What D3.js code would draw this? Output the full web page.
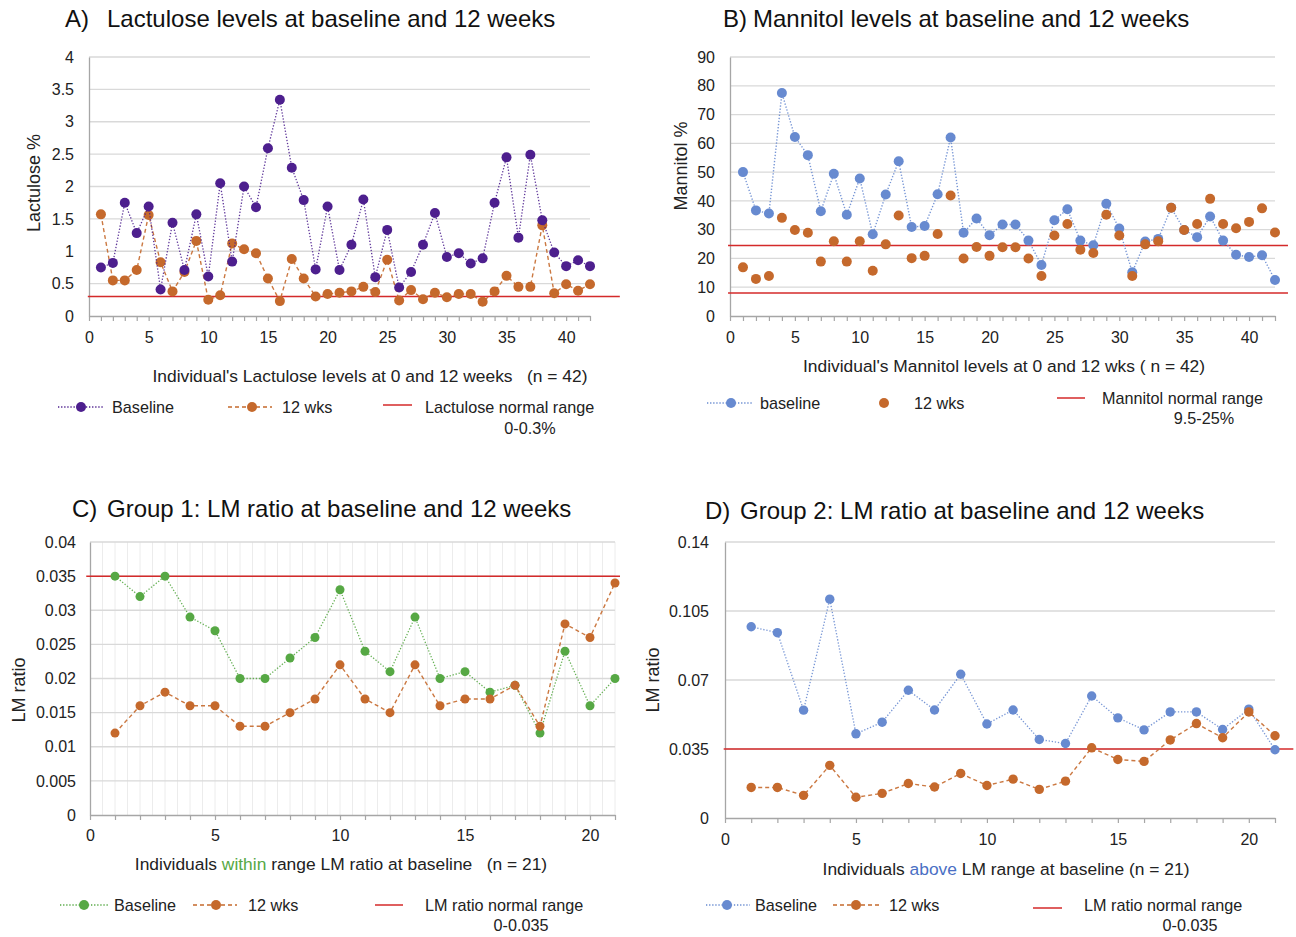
<!DOCTYPE html>
<html><head><meta charset="utf-8">
<script src="https://cdn.jsdelivr.net/npm/d3@7"></script>
<style>body{margin:0;background:#fff} svg{font-family:"Liberation Sans",Arial,sans-serif}</style>
</head><body><svg id="c" width="1296" height="937"></svg>
<script>
// ---------- DATA ----------
const ind42 = [1,2,3,4,5,6,7,8,9,10,11,12,13,14,15,16,17,18,19,20,21,22,23,24,25,26,27,28,29,30,31,32,33,34,35,36,37,38,39,40,41,42];
const ind21 = [1,2,3,4,5,6,7,8,9,10,11,12,13,14,15,16,17,18,19,20,21];

const lactBaseline = [0.75,0.82,1.75,1.28,1.69,0.41,1.44,0.71,1.57,0.61,2.05,0.84,2.0,1.68,2.59,3.34,2.29,1.79,0.72,1.69,0.71,1.10,1.80,0.60,1.33,0.44,0.68,1.10,1.59,0.91,0.97,0.81,0.89,1.75,2.45,1.21,2.49,1.48,0.98,0.77,0.86,0.77];
const lact12wks    = [1.57,0.55,0.55,0.71,1.56,0.83,0.38,0.68,1.16,0.25,0.32,1.12,1.03,0.97,0.58,0.23,0.88,0.58,0.30,0.34,0.36,0.38,0.45,0.37,0.87,0.24,0.40,0.26,0.36,0.29,0.34,0.34,0.22,0.38,0.62,0.45,0.45,1.40,0.35,0.49,0.39,0.49];

const mannBaseline = [50.0,36.7,35.6,77.5,62.2,55.9,36.4,49.4,35.2,47.8,28.4,42.2,53.8,30.9,31.3,42.3,62.0,28.9,33.9,28.1,31.8,31.8,26.2,17.7,33.3,37.1,26.2,24.6,39.0,30.4,15.2,25.9,26.8,37.6,29.9,27.4,34.6,26.2,21.3,20.5,21.1,12.5];
const mann12wks    = [16.9,12.9,13.9,34.1,29.9,28.9,18.9,26.0,18.9,26.0,15.7,24.9,34.9,20.1,20.9,28.5,41.9,20.0,24.0,20.9,23.9,23.9,20.0,13.9,28.0,32.0,23.0,21.9,35.2,28.0,13.9,24.9,26.0,37.6,29.9,32.0,40.7,32.0,30.5,32.7,37.4,29.0];

const g1Baseline = [0.035,0.032,0.035,0.029,0.027,0.020,0.020,0.023,0.026,0.033,0.024,0.021,0.029,0.020,0.021,0.018,0.019,0.012,0.024,0.016,0.020];
const g112wks    = [0.012,0.016,0.018,0.016,0.016,0.013,0.013,0.015,0.017,0.022,0.017,0.015,0.022,0.016,0.017,0.017,0.019,0.013,0.028,0.026,0.034];

const g2Baseline = [0.0970,0.0940,0.0547,0.1110,0.0427,0.0486,0.0648,0.0548,0.0729,0.0477,0.0548,0.0398,0.0378,0.0619,0.0508,0.0447,0.0538,0.0538,0.0449,0.0552,0.0346];
const g212wks    = [0.0155,0.0155,0.0115,0.0267,0.0105,0.0125,0.0175,0.0157,0.0226,0.0165,0.0197,0.0145,0.0187,0.0356,0.0297,0.0287,0.0396,0.0479,0.0407,0.0538,0.0417];

const lactYTicks = [0,0.5,1,1.5,2,2.5,3,3.5,4];
const mannYTicks = [0,10,20,30,40,50,60,70,80,90];
const g1YTicks = [0,0.005,0.01,0.015,0.02,0.025,0.03,0.035,0.04];
const g2YTicks = [0,0.035,0.07,0.105,0.14];
const x42Ticks = [0,5,10,15,20,25,30,35,40];
const x21Ticks = [0,5,10,15,20];

const lactRange = [0.3];
const mannRange = [24.5, 8.0];
const lmRange = [0.035];

// ---------- COLOURS ----------
const PURPLE = "#4d1f8e", ORANGE = "#c5692c", BLUE = "#678ad0", GREEN = "#56a844", RED = "#d42a2a";
const FONT = "Liberation Sans, Arial, sans-serif";
const TICK = 16, LEG = 16.2, AXT = 17.4, TTL = 24;

const svg = d3.select("#c");

function drawPanel(p) {
  const g = svg.append("g");
  const x = d3.scaleLinear().domain([0, p.xMax]).range([p.x0, p.x1]);
  const y = d3.scaleLinear().domain([0, p.yMax]).range([p.y1, p.y0]);

  if (p.minorGrid) {
    g.append("g").selectAll("line").data(x.ticks(p.xMax * 2).filter(d => d > 0)).join("line")
      .attr("x1", d => x(d)).attr("x2", d => x(d))
      .attr("y1", y(p.yMax)).attr("y2", y(0))
      .attr("stroke", "#ececec").attr("stroke-width", 1);
  }
  g.append("g").selectAll("line").data(p.yTicks.filter(d => d > 0)).join("line")
    .attr("x1", x(0)).attr("x2", x(p.xMax))
    .attr("y1", d => y(d)).attr("y2", d => y(d))
    .attr("stroke", "#d9d9d9").attr("stroke-width", 1.3);

  const ya = g.append("g").attr("transform", `translate(${x(0)},0)`)
    .call(d3.axisLeft(y).tickValues(p.yTicks).tickSize(0).tickPadding(p.yPad).tickFormat(d => String(+d.toFixed(4))))
    .attr("font-family", FONT).attr("font-size", TICK);
  ya.select(".domain").attr("stroke", "#a6a6a6").attr("stroke-width", 1.3);
  ya.selectAll("text").attr("fill", "#222");

  const xa = g.append("g").attr("transform", `translate(0,${y(0)})`)
    .call(d3.axisBottom(x).tickValues(x.ticks(p.xMax)).tickSize(5).tickSizeOuter(0).tickPadding(p.xPad)
      .tickFormat(d => p.xTicks.includes(d) ? String(d) : ""))
    .attr("font-family", FONT).attr("font-size", TICK);
  xa.select(".domain").attr("stroke", "#a6a6a6").attr("stroke-width", 1.3);
  xa.selectAll(".tick line").attr("stroke", "#a6a6a6").attr("stroke-width", 1.2);
  xa.selectAll("text").attr("fill", "#222");

  // normal range lines
  p.range.forEach(v => {
    g.append("line").attr("x1", x(p.redSpan[0])).attr("x2", x(p.redSpan[1]))
      .attr("y1", y(v)).attr("y2", y(v)).attr("stroke", RED).attr("stroke-width", 1.5);
  });

  p.series.forEach(s => {
    const pts = p.idx.map((d, i) => [d, s.values[i]]);
    if (s.dash) {
      g.append("path").datum(pts)
        .attr("d", d3.line().x(d => x(d[0])).y(d => y(d[1])))
        .attr("fill", "none").attr("stroke", s.color).attr("stroke-width", s.width)
        .attr("stroke-dasharray", s.dash).attr("opacity", 0.9);
    }
    g.append("g").selectAll("circle").data(pts).join("circle")
      .attr("cx", d => x(d[0])).attr("cy", d => y(d[1])).attr("r", p.r)
      .attr("fill", s.color);
  });
}

drawPanel({x0: 89, x1: 590, y0: 57, y1: 316, xMax: 42, yMax: 4, yTicks: lactYTicks, xTicks: x42Ticks,
  yPad: 15, xPad: 11, r: 5, idx: ind42, range: lactRange, redSpan: [-0.1, 44.5],
  series: [{values: lact12wks, color: ORANGE, dash: "4,3", width: 1.4},
           {values: lactBaseline, color: PURPLE, dash: "1.3,1.8", width: 1.3}]});

drawPanel({x0: 730, x1: 1275, y0: 57, y1: 316, xMax: 42, yMax: 90, yTicks: mannYTicks, xTicks: x42Ticks,
  yPad: 15, xPad: 11, r: 5, idx: ind42, range: mannRange, redSpan: [-0.15, 43.0],
  series: [{values: mannBaseline, color: BLUE, dash: "1.3,1.8", width: 1.4},
           {values: mann12wks, color: ORANGE, dash: null}]});

drawPanel({x0: 90, x1: 615, y0: 542, y1: 815, xMax: 21, yMax: 0.04, yTicks: g1YTicks, xTicks: x21Ticks,
  yPad: 14, xPad: 10, r: 4.5, idx: ind21, range: lmRange, redSpan: [-0.15, 21.2], minorGrid: true,
  series: [{values: g1Baseline, color: GREEN, dash: "1.3,1.8", width: 1.3},
           {values: g112wks, color: ORANGE, dash: "4,3", width: 1.4}]});

drawPanel({x0: 725, x1: 1275, y0: 542, y1: 818, xMax: 21, yMax: 0.14, yTicks: g2YTicks, xTicks: x21Ticks,
  yPad: 16, xPad: 11, r: 4.7, idx: ind21, range: lmRange, redSpan: [-0.05, 21.7],
  series: [{values: g2Baseline, color: BLUE, dash: "1.3,1.8", width: 1.3},
           {values: g212wks, color: ORANGE, dash: "4,3", width: 1.4}]});

// ---------- TEXT ----------
function txt(x, y, s, opt = {}) {
  const t = svg.append("text").attr("x", x).attr("y", y).attr("font-family", FONT)
    .attr("font-size", opt.size || LEG).attr("fill", opt.fill || "#222")
    .attr("text-anchor", opt.anchor || "start");
  if (opt.rotate) t.attr("transform", `rotate(-90,${x},${y})`);
  if (Array.isArray(s)) s.forEach(part => t.append("tspan").attr("fill", part[1] || null).text(part[0]));
  else t.text(s);
  return t;
}
// titles
txt(65, 27, "A)", {size: TTL, fill: "#111"});
txt(107, 27, "Lactulose levels at baseline and 12 weeks", {size: TTL, fill: "#111"});
txt(723, 27, "B)", {size: TTL, fill: "#111"});
txt(753, 27, "Mannitol levels at baseline and 12 weeks", {size: TTL, fill: "#111"});
txt(72, 517, "C)", {size: TTL, fill: "#111"});
txt(107, 517, "Group 1: LM ratio at baseline and 12 weeks", {size: TTL, fill: "#111"});
txt(705, 519, "D)", {size: TTL, fill: "#111"});
txt(740, 519, "Group 2: LM ratio at baseline and 12 weeks", {size: TTL, fill: "#111"});

// axis titles
txt(40, 183, "Lactulose %", {size: 18, anchor: "middle", rotate: true});
txt(687, 166, "Mannitol %", {size: 18, anchor: "middle", rotate: true});
txt(25, 690, "LM ratio", {size: 18, anchor: "middle", rotate: true});
txt(659, 680, "LM ratio", {size: 18, anchor: "middle", rotate: true});

txt(370, 382, "Individual's Lactulose levels at 0 and 12 weeks\u00a0\u00a0\u00a0(n = 42)", {size: AXT, anchor: "middle"});
txt(1004, 372, "Individual's Mannitol levels at 0 and 12 wks ( n = 42)", {size: AXT, anchor: "middle"});
txt(341, 870, [["Individuals "], ["within", GREEN], [" range LM ratio at baseline\u00a0\u00a0\u00a0(n = 21)"]], {size: AXT, anchor: "middle"});
txt(1006, 875, [["Individuals "], ["above", "#4a6fc4"], [" LM range at baseline (n = 21)"]], {size: AXT, anchor: "middle"});

// legends
function legLine(x1, x2, y, color, dash, mx, r) {
  svg.append("line").attr("x1", x1).attr("x2", x2).attr("y1", y).attr("y2", y)
    .attr("stroke", color).attr("stroke-width", dash ? 1.3 : 1.5).attr("stroke-dasharray", dash);
  if (mx != null) svg.append("circle").attr("cx", mx).attr("cy", y).attr("r", r).attr("fill", color);
}
// A
legLine(58, 103, 407, PURPLE, "1.3,1.8", 81, 5); txt(112, 413, "Baseline");
legLine(228, 272, 407, ORANGE, "4,3", 252, 5); txt(282, 413, "12 wks");
legLine(383, 412, 405, RED, null); txt(425, 413, "Lactulose normal range"); txt(530, 434, "0-0.3%", {anchor: "middle"});
// B
legLine(707, 752, 403, BLUE, "1.3,1.8", 731, 5); txt(760, 409, "baseline");
svg.append("circle").attr("cx", 884).attr("cy", 403).attr("r", 5).attr("fill", ORANGE); txt(914, 409, "12 wks");
legLine(1057, 1085, 398, RED, null); txt(1102, 404, "Mannitol normal range"); txt(1204, 424, "9.5-25%", {anchor: "middle"});
// C
legLine(60, 108, 905, GREEN, "1.3,1.8", 84, 5); txt(114, 911, "Baseline");
legLine(193, 237, 905, ORANGE, "4,3", 216, 5); txt(248, 911, "12 wks");
legLine(375, 403, 905, RED, null); txt(425, 911, "LM ratio normal range"); txt(521, 931, "0-0.035", {anchor: "middle"});
// D
legLine(706, 750, 905, BLUE, "1.3,1.8", 727, 5); txt(755, 911, "Baseline");
legLine(833, 879, 905, ORANGE, "4,3", 856, 5); txt(889, 911, "12 wks");
legLine(1033, 1062, 908, RED, null); txt(1084, 911, "LM ratio normal range"); txt(1190, 931, "0-0.035", {anchor: "middle"});
</script></body></html>
